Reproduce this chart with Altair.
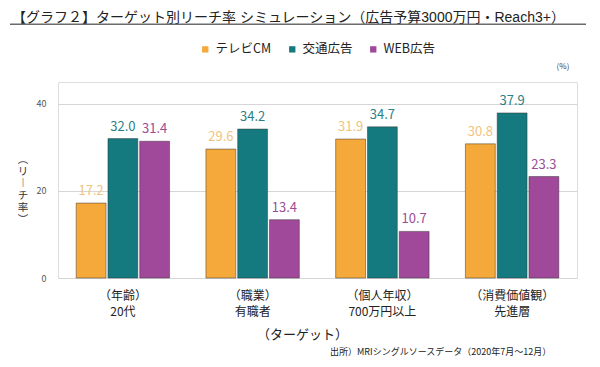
import altair as alt
import pandas as pd

categories = ["（年齢）|20代", "（職業）|有職者", "（個人年収）|700万円以上", "（消費価値観）|先進層"]
series = ["テレビCM", "交通広告", "WEB広告"]
tv = [17.2, 29.6, 31.9, 30.8]
transit = [32.0, 34.2, 34.7, 37.9]
web = [31.4, 13.4, 10.7, 23.3]

bar_colors = ["#F5A93A", "#147A80", "#A0489A"]
label_colors = ["#F0C47E", "#2C7F86", "#9B4C96"]

rows = []
for i, c in enumerate(categories):
    for s, vals in zip(series, [tv, transit, web]):
        rows.append({"target": c, "series": s, "value": vals[i]})
df = pd.DataFrame(rows)
one = pd.DataFrame([{"k": 1}])

FONT = "Noto Sans CJK JP"
MIXED = "Liberation Sans, Noto Sans CJK JP"

x_enc = alt.X("target:N", sort=categories,
              scale=alt.Scale(paddingInner=0.28, paddingOuter=0.14),
              axis=alt.Axis(title="（ターゲット）", labelExpr="split(datum.label, '|')",
                            labelAngle=0, labelFontSize=12, labelColor="#222",
                            labelPadding=12, labelLineHeight=16, ticks=False, domain=False,
                            titleFontSize=13, titleFontWeight="normal", titleColor="#222",
                            titleX=244, titleY=56, titleAlign="center", titleBaseline="middle"))
xoff = alt.XOffset("series:N", sort=series, scale=alt.Scale(paddingInner=0.06))

bars = alt.Chart(df).mark_bar(stroke="#333", strokeWidth=0.6, strokeOpacity=0.8).encode(
    x=x_enc,
    xOffset=xoff,
    y=alt.Y("value:Q", scale=alt.Scale(domain=[0, 45], nice=False),
            axis=alt.Axis(values=[0, 20, 40], title=None,
                          labelFontSize=9, labelColor="#555", labelPadding=12,
                          ticks=False, domain=False, gridColor="#d6d6d6")),
    color=alt.Color("series:N", sort=series, scale=alt.Scale(domain=series, range=bar_colors),
                    legend=alt.Legend(title=None, orient="none", direction="horizontal",
                                      legendX=141, legendY=-39, symbolType="square",
                                      symbolSize=40, symbolStrokeWidth=0, labelFontSize=12.5,
                                      labelColor="#222", columnPadding=14, labelOffset=4)),
)

labels = alt.Chart(df).mark_text(baseline="bottom", dy=-5, fontSize=13).encode(
    x=alt.X("target:N", sort=categories),
    xOffset=alt.XOffset("series:N", sort=series),
    y="value:Q",
    text=alt.Text("value:Q", format=".1f"),
    color=alt.Color("series:N", sort=series, scale=alt.Scale(domain=series, range=label_colors),
                    legend=None),
)

title = alt.Chart(one).mark_text(align="left", baseline="alphabetic", fontSize=14, color="#222",
                                 font=MIXED).encode(
    x=alt.value(-46), y=alt.value(-60.5),
    text=alt.value("【グラフ２】ターゲット別リーチ率 シミュレーション（広告予算3000万円・Reach3+）"))

underline = alt.Chart(one).mark_rect(color="#6a6a6a").encode(
    x=alt.value(-48), x2=alt.value(528), y=alt.value(-58.5), y2=alt.value(-57))

ytitle = alt.Chart(one).mark_text(align="center", baseline="top", fontSize=10.5, lineHeight=12,
                                  color="#333", font=MIXED).encode(
    x=alt.value(-35), y=alt.value(73),
    text=alt.value(["︵", "リ", "︱", "チ", "率", "︶"]))

pct = alt.Chart(one).mark_text(align="center", baseline="middle", fontSize=8, color="#444").encode(
    x=alt.value(505), y=alt.value(-15), text=alt.value("(%)"))

source = alt.Chart(one).mark_text(align="left", baseline="middle", fontSize=9, color="#222").encode(
    x=alt.value(272), y=alt.value(270),
    text=alt.value("出所）MRIシングルソースデータ（2020年7月～12月）"))

chart = alt.layer(bars, labels, title, underline, ytitle, pct, source).resolve_scale(
    color="independent"
).properties(
    width=519, height=196,
    autosize=alt.AutoSizeParams(type="none"),
    padding={"left": 50, "top": 74, "right": 15, "bottom": 81},
    background="white",
).configure_view(fill="#F2F0F4", stroke=None).configure(font=FONT)

chart.save("out.html", embed_options={"renderer": "svg", "actions": False})
